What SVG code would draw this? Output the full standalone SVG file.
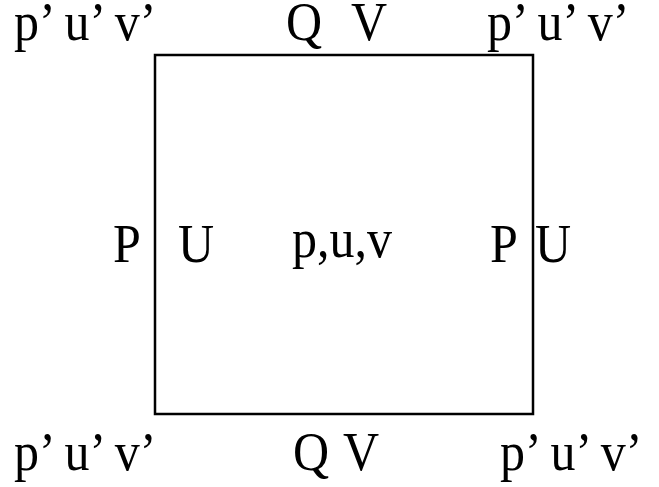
<svg xmlns="http://www.w3.org/2000/svg" width="659" height="487" viewBox="0 0 659 487">
<style>
  .t { font-family: "Liberation Serif", "Times New Roman", serif; font-size: 50px; fill: #000; }
  .box { fill: none; stroke: #000; stroke-width: 2.5; }
</style>
<rect width="659" height="487" fill="#fff"/>
<g id="cell">
  <rect class="box" x="155" y="55" width="378" height="359"/>
</g>
<g id="connectors"></g>
<g id="labels" transform="scale(1,1.08)">
  <g id="corner-tl"><text class="t" x="14" y="37">p’ u’ v’</text></g>
  <g id="edge-top"><text class="t" x="286" y="37">Q</text><text class="t" x="351" y="37">V</text></g>
  <g id="corner-tr"><text class="t" x="487" y="37">p’ u’ v’</text></g>
  <g id="edge-left"><text class="t" x="113" y="242.6">P</text><text class="t" x="178" y="242.6">U</text></g>
  <g id="center"><text class="t" x="292" y="238">p,u,v</text></g>
  <g id="edge-right"><text class="t" x="490" y="242.6">P</text><text class="t" x="535" y="242.6">U</text></g>
  <g id="corner-bl"><text class="t" x="14" y="435">p’ u’ v’</text></g>
  <g id="edge-bottom"><text class="t" x="293" y="435">Q</text><text class="t" x="343" y="435">V</text></g>
  <g id="corner-br"><text class="t" x="500" y="435">p’ u’ v’</text></g>
</g>
</svg>
